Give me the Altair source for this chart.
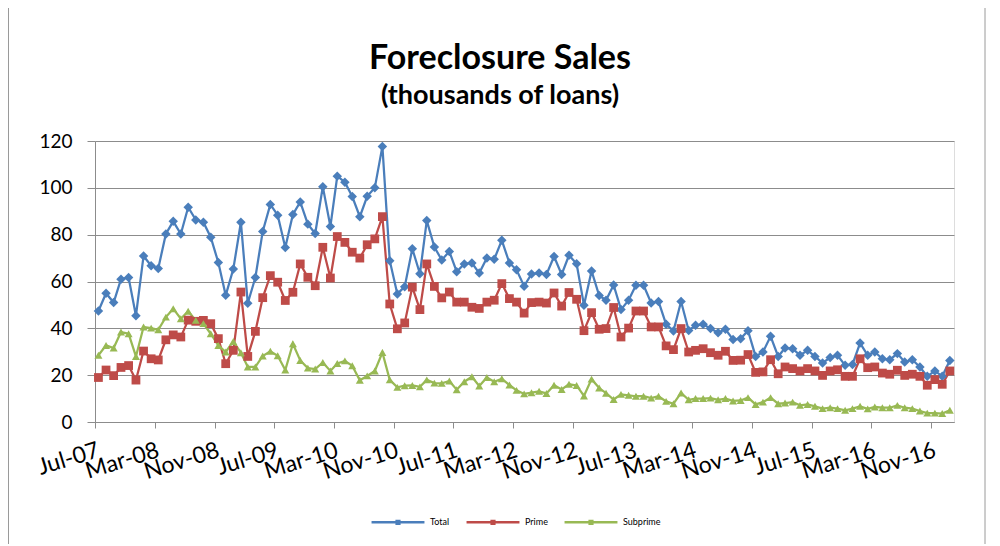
import altair as alt
import pandas as pd

# Monthly values, Jul-07 .. Jan-17 (thousands of loans)
total = [47.4, 55, 51, 61, 61.7, 45.4, 70.9, 66.7, 65.6, 80.3, 85.7, 80.3, 91.7, 86.3, 85.3, 78.9,
         68.1, 54.1, 65.3, 85.3, 50.7, 61.7, 81.4, 92.9, 88.3, 74.5, 88.6, 94, 84.5, 80.5, 100.5, 83.5,
         105, 102.4, 96.3, 87.7, 96.4, 100, 117.7, 68.9, 54.7, 57.8, 74, 63.3, 86, 74.7, 69.2, 72.8,
         64.2, 67.5, 67.9, 63.6, 70, 69.5, 77.6, 67.9, 65, 58, 63.2, 63.6, 63, 70.7, 63, 71.2,
         67.6, 49.9, 64.5, 54, 52, 58.5, 48, 52, 58.4, 58.4, 50.8, 51.5, 41.7, 38.9, 51.5, 39.1,
         41.3, 41.7, 39.9, 38.1, 39.6, 35.2, 35.6, 39, 28, 29.9, 36.6, 28, 31.6, 31.3, 28.5, 30.6,
         28, 25.2, 27.5, 28.5, 24.2, 24.6, 33.7, 28.5, 29.9, 27, 26.6, 29.2, 25.6, 26.6, 23.5, 19.5,
         21.8, 19.5, 26.3]
prime = [19, 22.2, 19.8, 23.3, 24.1, 17.9, 30.3, 27, 26.5, 35.1, 37.2, 36.3, 43.5, 43, 43.4, 42,
         35.6, 24.9, 30.6, 55.5, 28, 38.7, 53.1, 62.5, 59.7, 51.9, 55.4, 67.5, 61.8, 58.2, 74.6, 61.5,
         79.2, 76.7, 72.5, 70, 75.7, 78.2, 87.7, 50.4, 39.8, 42.3, 57.6, 48, 67.5, 57.9, 53, 55.5,
         51.2, 51.2, 49, 48.5, 51.2, 52, 59.1, 52.7, 51.2, 46.5, 51, 51.2, 50.8, 55.1, 49.5, 55.3,
         52.4, 39, 46.7, 39.6, 39.9, 48.9, 36.3, 40.1, 47.4, 47.4, 40.6, 40.6, 32.5, 30.9, 39.9, 29.9,
         30.6, 31.3, 29.6, 28.5, 30.2, 26.3, 26.4, 28.8, 21.2, 21.4, 26.6, 20.6, 23.5, 22.8, 21.8, 22.8,
         21.8, 19.9, 21.8, 22.3, 19.5, 19.5, 27, 23.2, 23.5, 20.9, 20.4, 22.1, 19.9, 20.4, 19.5, 15.7,
         18.1, 16.1, 21.8]
subprime = [28.5, 32.7, 31.6, 38.4, 37.7, 28, 40.6, 40.1, 39.4, 44.8, 48.4, 44.1, 47.3, 43.4, 42, 37.7,
            32.7, 29.9, 34.4, 29.6, 23.5, 23.5, 28.2, 30.2, 28.3, 22.2, 33.4, 26.3, 23, 22.6, 25.4, 21.8,
            25, 26.1, 24, 17.8, 19.7, 21.8, 29.7, 18, 14.8, 15.5, 15.6, 15, 18, 16.6, 16.5, 17.5,
            13.8, 17.2, 19.3, 15.4, 19, 17.2, 18.5, 15.8, 13.5, 12, 12.5, 13.1, 12.2, 15.7, 13.9, 16.1,
            15.6, 11.1, 18.3, 14.5, 12.3, 9.6, 11.8, 11.4, 11, 11, 10.2, 11, 8.8, 7.8, 12.4, 9.5,
            10, 10, 10.2, 9.5, 10, 9, 9.2, 10.4, 7.5, 8.5, 10.4, 7.8, 8.1, 8.5, 7.1, 7.5,
            6.7, 5.7, 6.1, 5.7, 5, 5.7, 6.7, 5.6, 6.4, 6.1, 6.1, 7.1, 6.1, 5.7, 4.7, 3.8,
            3.8, 3.6, 5]

series_names = ["Total", "Prime", "Subprime"]
series_colors = ["#4A7EBB", "#BE4B48", "#98B954"]
series_shapes = ["diamond", "square", "triangle-up"]
series_sizes = [90, 64, 64]

title_text = "Foreclosure Sales"
subtitle_text = "(thousands of loans)"

months = pd.date_range("2007-07-01", periods=len(total), freq="MS") + pd.Timedelta(days=14)
frames = []
for name, vals in zip(series_names, [total, prime, subprime]):
    frames.append(pd.DataFrame({"date": months, "value": vals, "series": name}))
df = pd.concat(frames, ignore_index=True)
df["date"] = df["date"].dt.strftime("%Y-%m-%dT%H:%M:%S")
df["marker"] = df["series"]

tick_dates = [alt.DateTime(year=2007 + (6 + 8 * k) // 12, month=(6 + 8 * k) % 12 + 1, date=1)
              for k in range(15)]

FONT = "Lato"
# legend symbol: a line with a small marker in the middle (unit box -1..1)
LEGEND_SYMBOL = "M-1,0H1M-0.05,-0.05H0.05V0.05H-0.05Z"

x_enc = alt.X(
    "date:T",
    scale=alt.Scale(domain=[alt.DateTime(year=2007, month=7, date=1),
                            alt.DateTime(year=2017, month=2, date=1)]),
    axis=alt.Axis(values=tick_dates, format="%b-%y", labelAngle=-17, labelAlign="right",
                  labelBaseline="top", labelFontSize=23, labelPadding=11, tickSize=6,
                  grid=False, title=None, labelColor="black", labelFont=FONT,
                  domainColor="#8c8c8c", tickColor="#8c8c8c", labelOverlap=False,
                  labelFlush=False),
)
y_enc = alt.Y(
    "value:Q",
    scale=alt.Scale(domain=[0, 120]),
    axis=alt.Axis(values=[0, 20, 40, 60, 80, 100, 120], grid=True, gridColor="#8c8c8c",
                  gridWidth=1, title=None, labelFontSize=19, labelPadding=15, tickSize=8,
                  labelColor="black", labelFont=FONT, domainColor="#8c8c8c", tickColor="#8c8c8c"),
)
color_enc = alt.Color(
    "series:N",
    scale=alt.Scale(domain=series_names, range=series_colors),
    legend=alt.Legend(title=None, orient="none", legendX=275, legendY=353, direction="horizontal",
                      symbolType=LEGEND_SYMBOL, symbolSize=2800, symbolStrokeWidth=2.5, padding=0,
                      labelFontSize=9, labelFont=FONT, columnPadding=11, labelOffset=4,
                      labelColor="black"),
)

lines = alt.Chart(df).mark_line(strokeWidth=2.25).encode(
    x=x_enc, y=y_enc, color=color_enc,
    order=alt.Order("date:T"),
    detail="series:N",
)
points = alt.Chart(df).mark_point(filled=True, opacity=1).encode(
    x="date:T", y="value:Q",
    color=alt.Color("marker:N", scale=alt.Scale(domain=series_names, range=series_colors), legend=None),
    shape=alt.Shape("marker:N", scale=alt.Scale(domain=series_names, range=series_shapes), legend=None),
    size=alt.Size("marker:N", scale=alt.Scale(domain=series_names, range=series_sizes), legend=None),
)
one = pd.DataFrame({"v": [0]})
frame = alt.Chart(one).mark_rect(
    fill=None, stroke="#9a9a9a", strokeWidth=1, clip=False
).encode(x=alt.value(-86.5), x2=alt.value(890), y=alt.value(-140), y2=alt.value(404.5))
title = alt.Chart(one).mark_text(
    text=title_text, font=FONT, fontSize=34, fontWeight="bold", color="black",
    align="center", baseline="alphabetic"
).encode(x=alt.value(405), y=alt.value(-72))
subtitle = alt.Chart(one).mark_text(
    text=subtitle_text, font=FONT, fontSize=27, fontWeight="bold", color="black",
    align="center", baseline="alphabetic"
).encode(x=alt.value(405), y=alt.value(-37))

chart = alt.layer(frame, title, subtitle, lines, points).properties(
    width=859,
    height=281,
    padding={"left": 87, "top": 133, "right": 38, "bottom": 122},
    autosize=alt.AutoSizeParams(type="none"),
).resolve_scale(color="independent", shape="independent", size="independent") \
 .configure_view(stroke=None).configure(background="white")

chart.save("out.html", embed_options={"renderer": "svg", "actions": False})
